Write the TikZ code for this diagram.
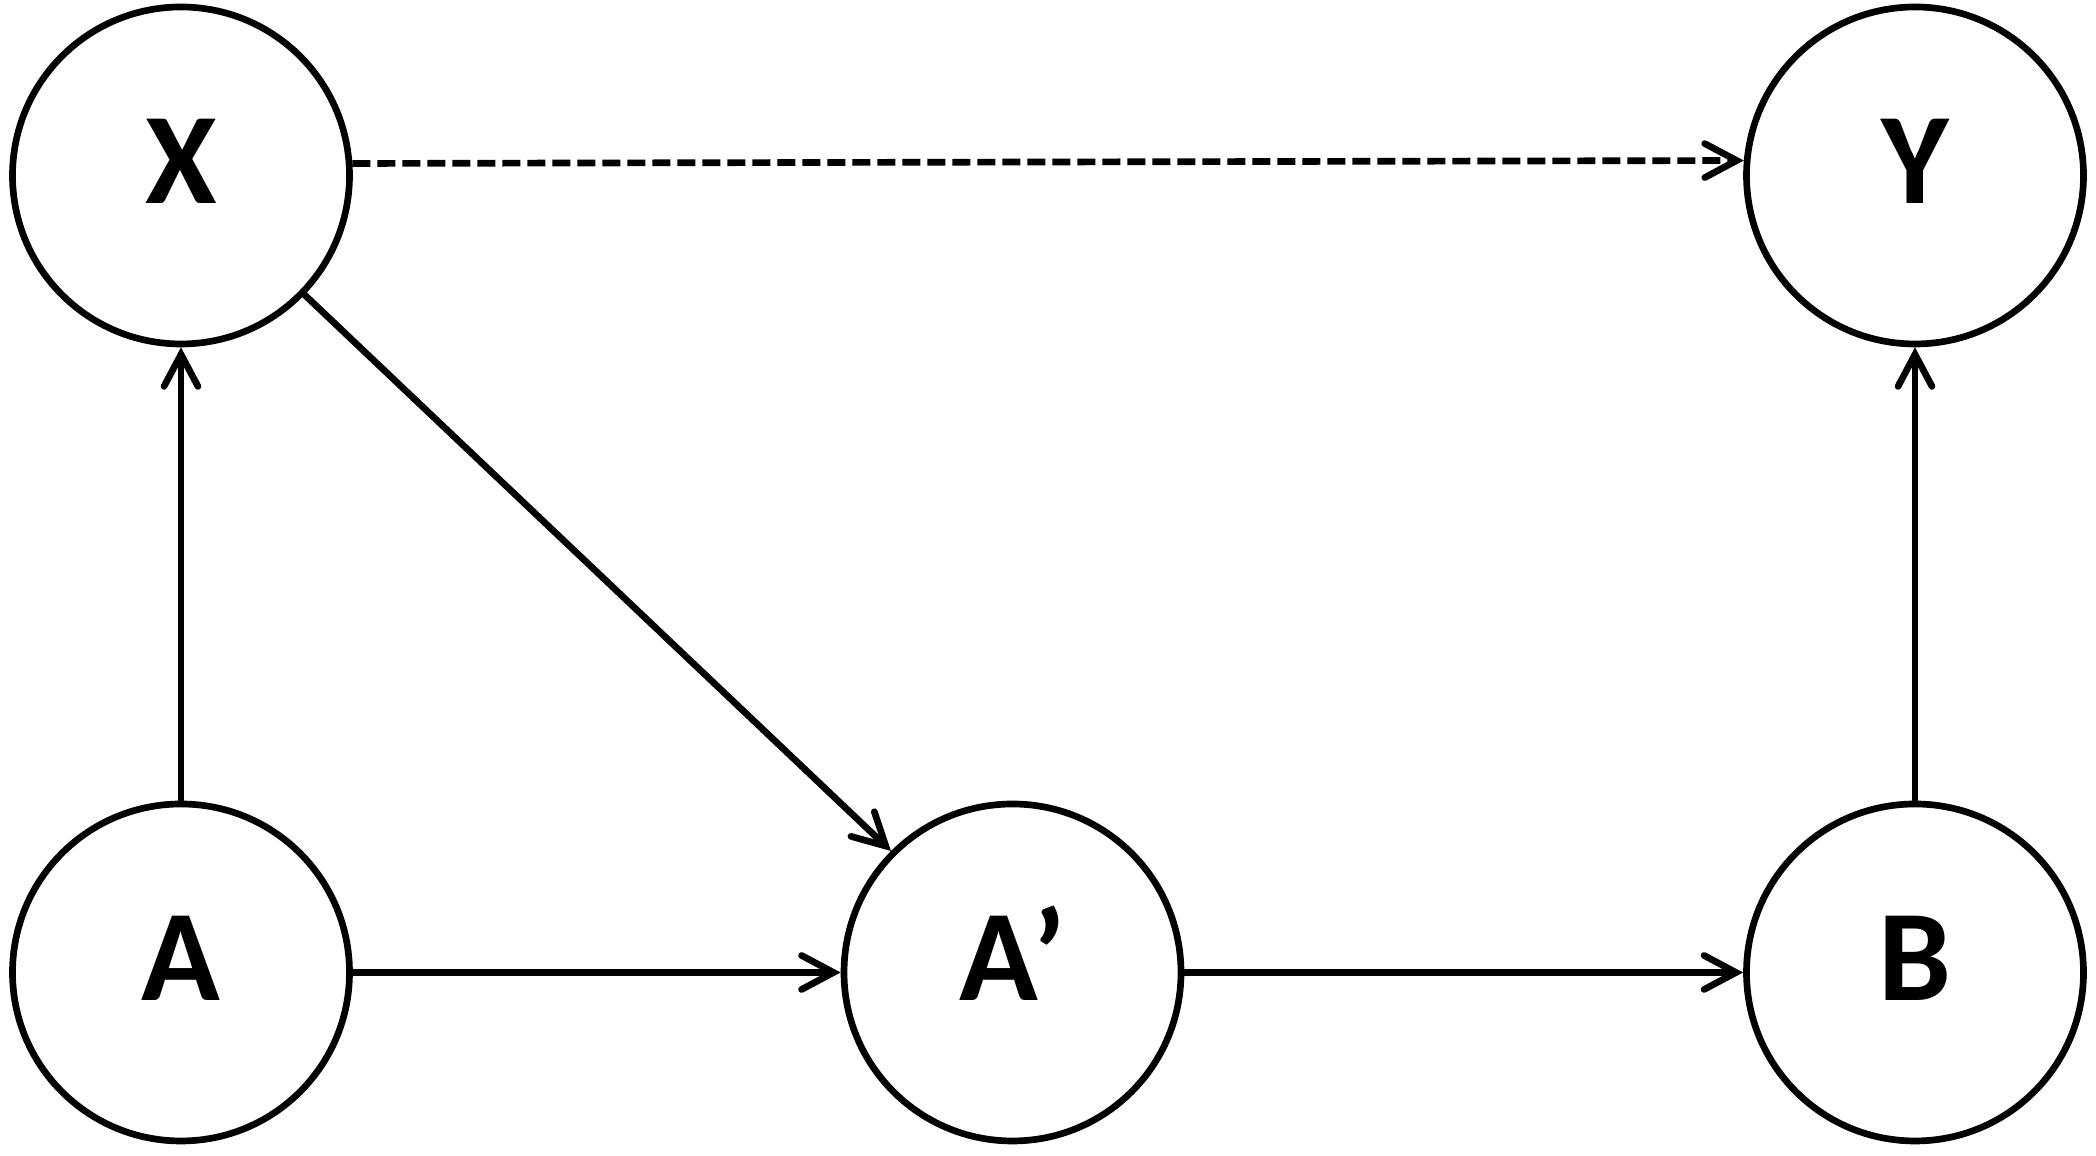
\documentclass[tikz,border=0pt]{standalone}
\usepackage{fontspec}
\setmainfont{Carlito}
\usepackage{tikz}
\usetikzlibrary{arrows.meta,positioning}

\begin{document}
\begin{tikzpicture}[
  var/.style  ={draw=black, line width=1.9pt, circle, minimum size=3.37cm, inner sep=0pt, font=\fontsize{37}{37}\selectfont\bfseries, text height=0.82cm, text depth=0.26cm},
  link/.style ={-{Straight Barb[length=3.2mm,width=3.4mm,line cap=round]}, line width=1.9pt, line cap=round, black},
  maybe/.style={link, line cap=butt, dash pattern=on 0.18cm off 0.07cm},
]
  \useasboundingbox (0,0) rectangle (20.96,11.56);

  \node[var] (x)  at (1.81,9.805)   {X};
  \node[var] (y)  at (19.15,9.805)  {Y};
  \node[var] (a)  at (1.81,1.835)   {A};
  \node[var] (ap) at (10.125,1.835) {A’};
  \node[var] (b)  at (19.15,1.835)  {B};

  \draw[maybe] (x.4.6)  -- (y.175.4);
  \draw[link]  (a)      -- (x);
  \draw[link]  (x.-44.6) -- (ap.135.5);
  \draw[link]  (a)      -- (ap);
  \draw[link]  (ap)     -- (b);
  \draw[link]  (b)      -- (y);
\end{tikzpicture}
\end{document}
